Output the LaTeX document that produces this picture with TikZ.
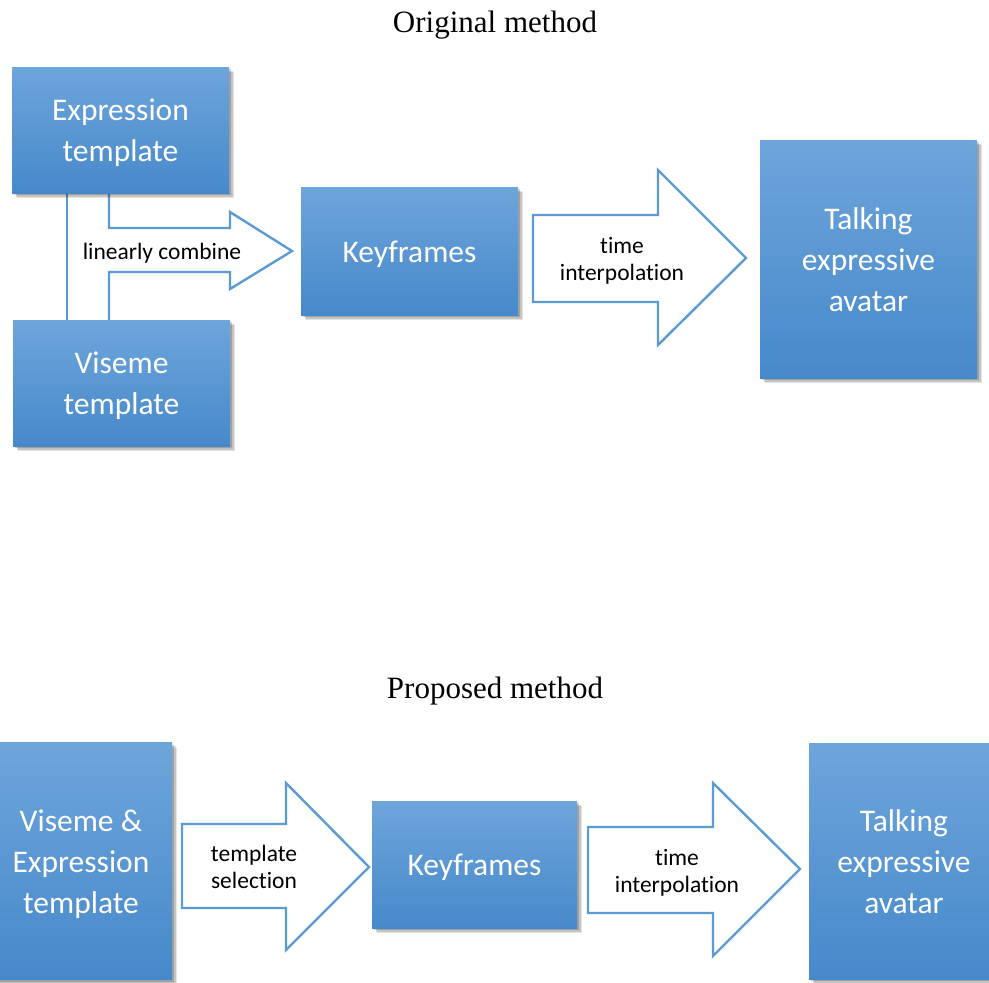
\documentclass[tikz,border=0pt]{standalone}
\usepackage{fontspec}
\setmainfont{Liberation Serif}
\newfontfamily\calib[RawFeature={-liga}]{Carlito}
\usetikzlibrary{shadows}
\definecolor{boxtop}{HTML}{6EA5DB}
\definecolor{boxbot}{HTML}{4689CA}
\definecolor{arrowblue}{HTML}{5B9BD5}
\tikzset{
  softshadow/.style={
    drop shadow={shadow xshift=2pt, shadow yshift=-2pt, opacity=0.18, fill=black},
    drop shadow={shadow xshift=3.5pt, shadow yshift=-3.5pt, opacity=0.15, fill=black},
    drop shadow={shadow xshift=5pt, shadow yshift=-5pt, opacity=0.10, fill=black}},
  bluebox/.style={rectangle, inner sep=0pt, top color=boxtop, bottom color=boxbot, draw=none, softshadow},
  boxtext/.style={text=white, align=center, inner sep=0pt, yshift=-3pt, font=\calib\fontsize{31.5}{41}\selectfont},
  blockarrow/.style={draw=arrowblue, line width=2.4pt, fill=white, line join=miter},
  arrowlabel/.style={align=center, text=black, inner sep=0pt, font=\calib\fontsize{23.5}{26.5}\selectfont},
  titletext/.style={inner sep=0pt, font=\fontsize{31}{36}\selectfont}
}
\begin{document}
\begin{tikzpicture}[x=1pt,y=-1pt]
\useasboundingbox (0,0) rectangle (989,983);
% titles
\node[titletext] (t1) at (495,25) {Original method};
\node[titletext] (t2) at (495,691) {Proposed method};

% ---------- top: original method ----------
\draw[arrowblue, line width=2.4pt] (67,190) -- (67,322);
\draw[blockarrow, fill=none] (109,190) -- (109,228) -- (230,228) -- (230,212) -- (292,251) -- (230,289) -- (230,272) -- (109,272) -- (109,322);
\node[arrowlabel] (lc) at (162,253) {linearly combine};
\draw[blockarrow] (533,215) -- (658,215) -- (658,170) -- (746,258) -- (658,345) -- (658,302) -- (533,302) -- cycle;
\node[arrowlabel] (ti1) at (622,261) {time\\interpolation};

\node[bluebox, minimum width=217pt, minimum height=126pt,
  label={[boxtext]center:{Expression\\template}}] (expr) at (120.5,130) {};
\node[bluebox, minimum width=217pt, minimum height=126pt,
  label={[boxtext]center:{Viseme\\template}}] (vis) at (121.5,383) {};
\node[bluebox, minimum width=217pt, minimum height=128pt,
  label={[boxtext]center:{Keyframes}}] (key1) at (409.5,251) {};
\node[bluebox, minimum width=217pt, minimum height=238pt,
  label={[boxtext, yshift=2pt]center:{Talking\\expressive\\avatar}}] (talk1) at (868.5,259) {};

% ---------- bottom: proposed method ----------
\draw[blockarrow] (182,824) -- (286,824) -- (286,783) -- (369,867) -- (286,950) -- (286,908) -- (182,908) -- cycle;
\node[arrowlabel] (ts) at (254,867) {template\\selection};
\draw[blockarrow] (588,827) -- (713,827) -- (713,783) -- (800,869) -- (713,956) -- (713,913) -- (588,913) -- cycle;
\node[arrowlabel] (ti2) at (677,873) {time\\interpolation};

\node[bluebox, minimum width=182pt, minimum height=237pt,
  label={[boxtext]center:{Viseme \&\\Expression\\template}}] (ve) at (81,861) {};
\node[bluebox, minimum width=205pt, minimum height=127pt,
  label={[boxtext]center:{Keyframes}}] (key2) at (474.5,864.5) {};
\node[bluebox, minimum width=190pt, minimum height=236pt,
  label={[boxtext, yshift=2pt]center:{Talking\\expressive\\avatar}}] (talk2) at (904,861) {};
\end{tikzpicture}
\end{document}
